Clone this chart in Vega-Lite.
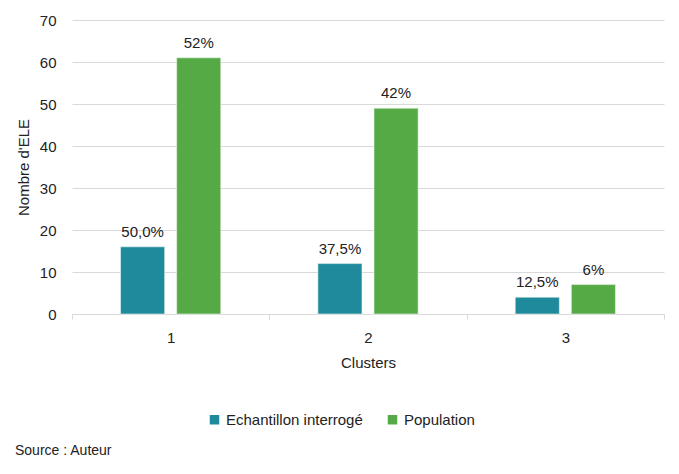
{
  "$schema": "https://vega.github.io/schema/vega-lite/v6.json",
  "width": 592,
  "height": 294,
  "autosize": {"type": "none"},
  "padding": {"left": 72, "top": 20, "right": 15, "bottom": 160},
  "background": "white",
  "config": {
    "font": "Liberation Sans",
    "view": {"stroke": null},
    "text": {"font": "Liberation Sans"}
  },
  "title": {
    "text": "Source : Auteur",
    "orient": "bottom",
    "anchor": "start",
    "frame": "group",
    "offset": 16,
    "dx": -57,
    "fontSize": 14,
    "fontWeight": "normal",
    "color": "#222222",
    "font": "Liberation Sans"
  },
  "data": {
    "values": [
      {"Cluster": "1", "Serie": "Echantillon interrogé", "Nombre": 16, "Label": "50,0%"},
      {"Cluster": "1", "Serie": "Population", "Nombre": 61, "Label": "52%"},
      {"Cluster": "2", "Serie": "Echantillon interrogé", "Nombre": 12, "Label": "37,5%"},
      {"Cluster": "2", "Serie": "Population", "Nombre": 49, "Label": "42%"},
      {"Cluster": "3", "Serie": "Echantillon interrogé", "Nombre": 4, "Label": "12,5%"},
      {"Cluster": "3", "Serie": "Population", "Nombre": 7, "Label": "6%"}
    ]
  },
  "encoding": {
    "x": {
      "field": "Cluster",
      "type": "nominal",
      "scale": {"paddingInner": 0, "paddingOuter": 0},
      "axis": {
        "title": "Clusters",
        "labelAngle": 0,
        "labelFontSize": 15,
        "labelColor": "#222222",
        "titleFontSize": 15,
        "titleFontWeight": "normal",
        "titleColor": "#222222",
        "titlePadding": 10,
        "tickBand": "extent",
        "tickSize": 5,
        "tickColor": "#d9d9d9",
        "labelPadding": 11,
        "domainColor": "#d9d9d9",
        "grid": false
      }
    },
    "xOffset": {
      "field": "Serie",
      "type": "nominal",
      "scale": {"paddingInner": 0.214, "paddingOuter": 0.866}
    },
    "y": {
      "field": "Nombre",
      "type": "quantitative",
      "scale": {"domain": [0, 70]},
      "axis": {
        "title": "Nombre d'ELE",
        "values": [0, 10, 20, 30, 40, 50, 60, 70],
        "labelFontSize": 15,
        "labelColor": "#222222",
        "titleFontSize": 15,
        "titleFontWeight": "normal",
        "titleColor": "#222222",
        "titlePadding": 8,
        "labelPadding": 16,
        "ticks": false,
        "domain": false,
        "grid": true,
        "gridColor": "#d9d9d9",
        "gridWidth": 1.2
      }
    }
  },
  "layer": [
    {
      "mark": {"type": "bar", "stroke": "#e8f4ec", "strokeWidth": 0.6},
      "encoding": {
        "color": {
          "field": "Serie",
          "type": "nominal",
          "scale": {"domain": ["Echantillon interrogé", "Population"], "range": ["#1f8a9c", "#56aa46"]},
          "legend": {
            "title": null,
            "orient": "none",
            "direction": "horizontal",
            "legendX": 135,
            "legendY": 392,
            "symbolType": "square",
            "symbolSize": 90,
            "symbolStrokeWidth": 0,
            "labelFontSize": 15,
            "labelColor": "#222222",
            "labelFont": "Liberation Sans",
            "columnPadding": 22,
            "labelOffset": 4
          }
        }
      }
    },
    {
      "mark": {"type": "text", "baseline": "bottom", "dy": -7, "fontSize": 15, "color": "#222222"},
      "encoding": {
        "text": {"field": "Label"}
      }
    }
  ]
}
